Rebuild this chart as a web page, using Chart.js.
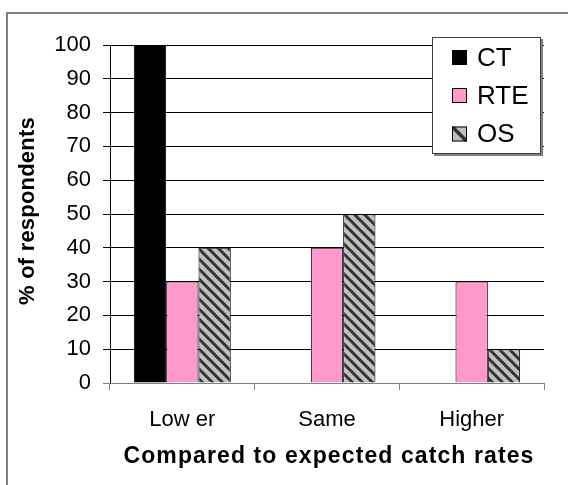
<!DOCTYPE html>
<html>
<head>
<meta charset="utf-8">
<script src="https://cdn.jsdelivr.net/npm/chart.js@4"></script>
<style>
  html, body { margin: 0; padding: 0; background: #fff; overflow: hidden; }
  #wrap { position: relative; width: 568px; height: 485px; overflow: hidden; }
  #frame { position: absolute; left: 6px; top: 12px; width: 620px; height: 520px; border: 2px solid #808080; }
  #myChart { position: absolute; left: 0; top: 0; }
</style>
</head>
<body>
<div id="wrap">
  <div id="frame"></div>
  <canvas id="myChart" width="568" height="485"></canvas>
</div>
<script>
const categories = ['Low er', 'Same', 'Higher'];
const seriesNames = ['CT', 'RTE', 'OS'];
const ctValues = [100, 0, 0];
const rteValues = [30, 40, 30];
const osValues = [40, 50, 10];
const xTitle = 'Compared to expected catch rates';
const yTitle = '% of respondents';

const FONT = '"Liberation Sans", Arial, sans-serif';
Chart.defaults.font.family = FONT;
Chart.defaults.color = '#000';

// diagonal hatch for the OS series
function makeHatch() {
  const c = document.createElement('canvas');
  c.width = 10;
  c.height = 10;
  const g = c.getContext('2d');
  g.fillStyle = '#c0c0c0';
  g.fillRect(0, 0, 10, 10);
  g.strokeStyle = '#333';
  g.lineWidth = 3;
  g.beginPath();
  for (const k of [-10, 0, 10]) {
    g.moveTo(k - 1, -1);
    g.lineTo(k + 11, 11);
  }
  g.stroke();
  return g.createPattern(c, 'repeat');
}

const ctx = document.getElementById('myChart').getContext('2d');
const hatch = makeHatch();
const fills = ['#000000', '#ff99cc', hatch];

// axis titles and the boxed legend, drawn by hand
const extras = {
  id: 'extras',
  afterDraw(chart) {
    const c = chart.ctx;
    c.save();
    c.fillStyle = '#000';

    c.font = 'bold 23px ' + FONT;
    c.letterSpacing = '1.1px';
    c.textAlign = 'center';
    c.textBaseline = 'alphabetic';
    c.fillText(xTitle, 329, 463);

    c.save();
    c.translate(28, 211);
    c.rotate(-Math.PI / 2);
    c.font = 'bold 22px ' + FONT;
    c.letterSpacing = '0.2px';
    c.textBaseline = 'middle';
    c.fillText(yTitle, 0, 0);
    c.restore();

    // legend box
    c.letterSpacing = '0px';
    c.fillStyle = '#808080';
    c.fillRect(434, 39, 109, 117);
    c.fillStyle = '#fff';
    c.fillRect(432, 37, 109, 117);
    c.strokeStyle = '#404040';
    c.lineWidth = 1;
    c.strokeRect(432.5, 37.5, 108, 116);

    const rows = [57.5, 95.5, 134];
    c.font = '26px ' + FONT;
    c.textAlign = 'left';
    c.textBaseline = 'middle';
    chart.data.datasets.forEach((ds, i) => {
      const y = rows[i];
      if (i === 2) {
        c.fillStyle = '#c0c0c0';
        c.fillRect(452, y - 7.5, 15, 15);
        c.save();
        c.beginPath();
        c.rect(452, y - 7.5, 15, 15);
        c.clip();
        c.strokeStyle = '#333';
        c.lineWidth = 3.5;
        c.beginPath();
        c.moveTo(452, y - 7.5);
        c.lineTo(467, y + 7.5);
        c.stroke();
        c.restore();
      } else {
        c.fillStyle = ds.backgroundColor;
        c.fillRect(452, y - 7.5, 15, 15);
      }
      if (i > 0) {
        c.strokeStyle = '#000';
        c.lineWidth = 1;
        c.strokeRect(452.5, y - 7, 14, 14);
      }
      c.fillStyle = '#000';
      c.fillText(ds.label, 477, y + 1);
    });
    c.restore();
  }
};

new Chart(ctx, {
  type: 'bar',
  data: {
    labels: categories,
    datasets: [ctValues, rteValues, osValues].map((vals, i) => ({
      label: seriesNames[i],
      data: vals,
      backgroundColor: fills[i],
      borderColor: '#000',
      borderWidth: 1,
      categoryPercentage: 0.67,
      barPercentage: 1.0
    }))
  },
  options: {
    responsive: false,
    animation: false,
    layout: { padding: { top: 45, right: 24, left: 0, bottom: 0 } },
    plugins: {
      legend: { display: false },
      tooltip: { enabled: false }
    },
    scales: {
      x: {
        afterFit(scale) { scale.height = 102; },
        border: { color: '#808080', width: 1 },
        grid: {
          offset: true,
          drawOnChartArea: false,
          drawTicks: true,
          tickLength: 7,
          color: '#808080'
        },
        ticks: { font: { size: 22 }, color: '#000', padding: 17 }
      },
      y: {
        min: 0,
        max: 100,
        afterFit(scale) { scale.width = 110; },
        border: { color: '#000', width: 1 },
        grid: {
          color: (c) => (c.tick && c.tick.value === 0 ? '#808080' : '#000'),
          tickLength: 7
        },
        ticks: { stepSize: 10, font: { size: 22 }, color: '#000', padding: 12 }
      }
    }
  },
  plugins: [extras]
});
</script>
</body>
</html>
